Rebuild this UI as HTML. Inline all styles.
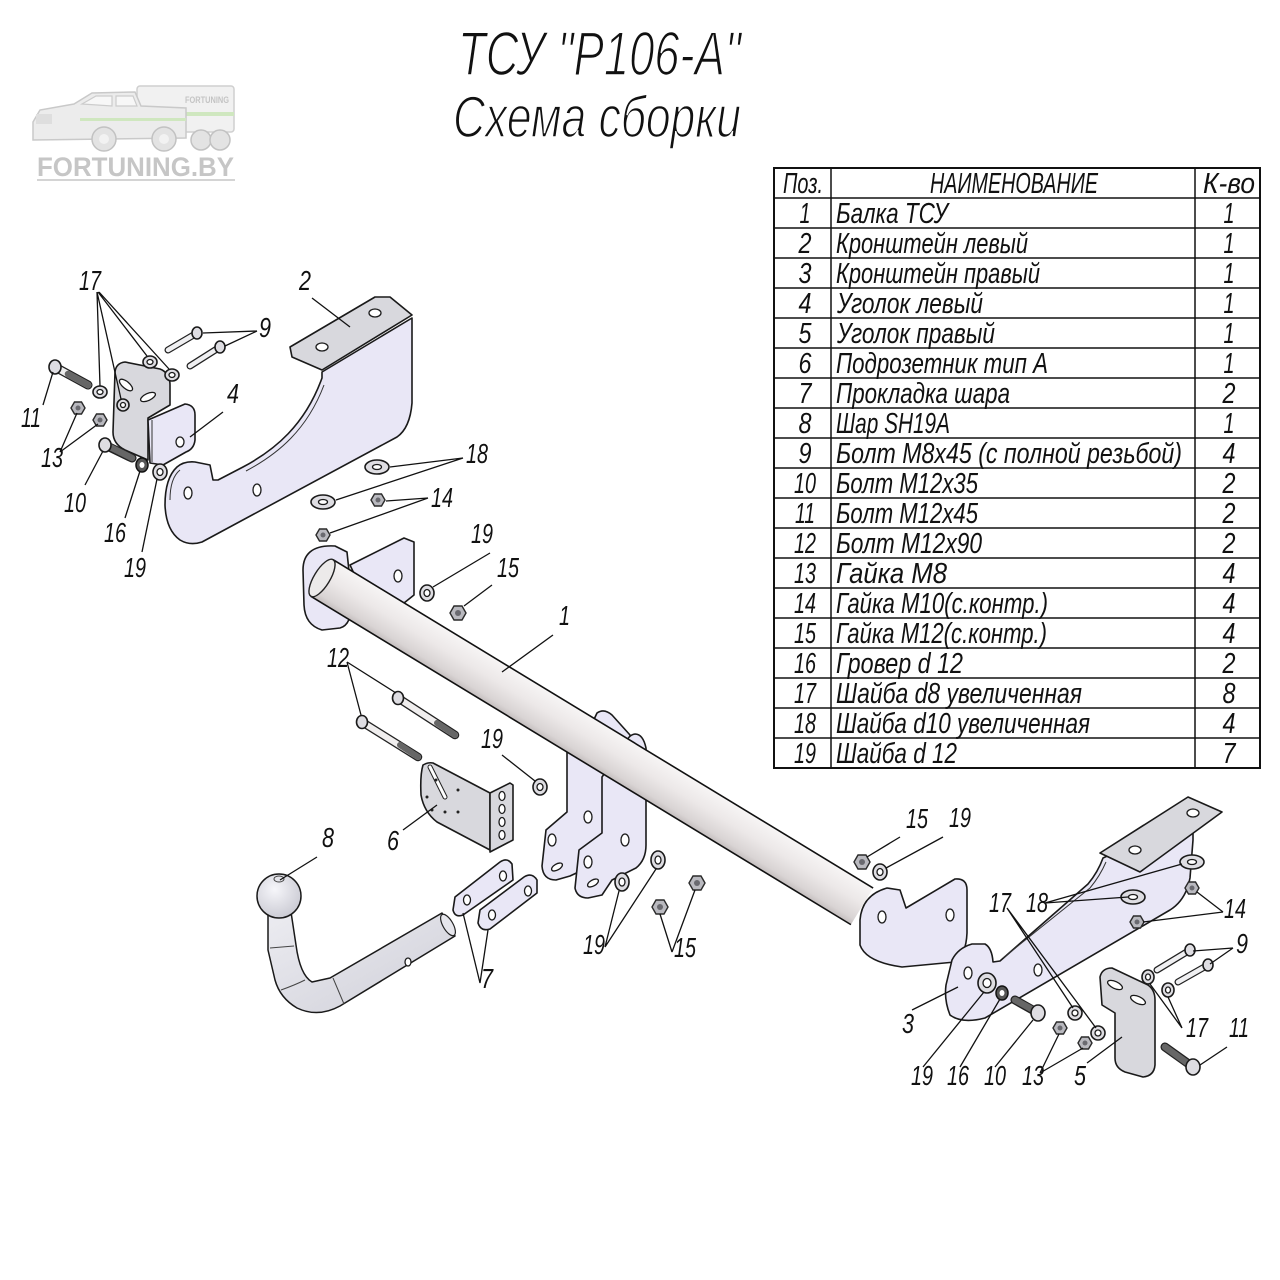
<!DOCTYPE html>
<html><head><meta charset="utf-8"><style>
html,body{margin:0;padding:0;background:#fff;}
svg{display:block;}
.l{font-family:"Liberation Sans",sans-serif;font-style:italic;font-size:28px;fill:#111;}
.t{font-family:"Liberation Sans",sans-serif;font-style:italic;font-size:29px;fill:#111;}
.ld{stroke:#111;stroke-width:1.3;fill:none;}
.pl{fill:#e9e7f6;stroke:#1a1a1a;stroke-width:1.6;stroke-linejoin:round;}
.gp{fill:#d8d8dd;stroke:#1a1a1a;stroke-width:1.6;stroke-linejoin:round;}
.h{fill:#fff;stroke:#1a1a1a;stroke-width:1.3;}
.w{fill:#dedde2;stroke:#1a1a1a;stroke-width:1.6;}
.n{fill:#b9b9bf;stroke:#2a2a2a;stroke-width:1.4;}
</style></head><body>
<svg width="1280" height="1280" viewBox="0 0 1280 1280" xmlns="http://www.w3.org/2000/svg">
<defs>
<linearGradient id="tg" x1="0" y1="0" x2="0" y2="1">
<stop offset="0" stop-color="#f7f5f5"/><stop offset="0.45" stop-color="#ece8e8"/><stop offset="0.85" stop-color="#d9d4d4"/><stop offset="1" stop-color="#c4bebe"/>
</linearGradient>
<radialGradient id="bg" cx="0.4" cy="0.35" r="0.7">
<stop offset="0" stop-color="#f6f6fa"/><stop offset="1" stop-color="#c9c9d2"/>
</radialGradient>
<linearGradient id="ag" x1="0" y1="0" x2="1" y2="1">
<stop offset="0" stop-color="#ececf1"/><stop offset="1" stop-color="#cfcfd8"/>
</linearGradient>
</defs>
<rect width="1280" height="1280" fill="#fff"/>

<!-- LOGO -->
<g>
<rect x="137" y="86" width="97" height="46" rx="3" fill="#f1f1f1" stroke="#cfcfcf" stroke-width="1.5"/>
<rect x="137" y="112" width="97" height="4" fill="#cfe7bf"/>
<text x="185" y="103" font-family="Liberation Sans,sans-serif" font-size="9" font-weight="bold" fill="#c4c4c4" textLength="44" lengthAdjust="spacingAndGlyphs">FORTUNING</text>
<path d="M33,122 L40,110 L74,104 L92,93 L135,92 L141,106 L186,108 L186,138 L33,140 Z" fill="#ececec" stroke="#c9c9c9" stroke-width="1.5"/>
<path d="M82,104 L96,96 L112,96 L112,106 Z M116,96 L133,96 L137,106 L116,106 Z" fill="#f7f7f7" stroke="#cccccc" stroke-width="1.2"/>
<rect x="80" y="118" width="106" height="3" fill="#cfe7bf"/>
<rect x="36" y="114" width="16" height="10" fill="#dedede"/>
<circle cx="104" cy="139" r="12" fill="#e3e3e3" stroke="#c2c2c2" stroke-width="1.5"/><circle cx="104" cy="139" r="5" fill="#f2f2f2"/>
<circle cx="164" cy="139" r="12" fill="#e3e3e3" stroke="#c2c2c2" stroke-width="1.5"/><circle cx="164" cy="139" r="5" fill="#f2f2f2"/>
<circle cx="201" cy="140" r="10" fill="#e3e3e3" stroke="#c2c2c2" stroke-width="1.5"/>
<circle cx="220" cy="140" r="10" fill="#e3e3e3" stroke="#c2c2c2" stroke-width="1.5"/>
<text x="37" y="176" font-family="Liberation Sans,sans-serif" font-size="27" font-weight="bold" fill="#c6c6c6" textLength="197" lengthAdjust="spacingAndGlyphs">FORTUNING.BY</text>
<rect x="37" y="179" width="198" height="2" fill="#d4d4d4"/>
</g>

<!-- TITLE -->
<text x="458" y="75" font-family="Liberation Sans,sans-serif" font-style="italic" font-size="62" fill="#111" stroke="#fff" stroke-width="1.6" textLength="283" lengthAdjust="spacingAndGlyphs">ТСУ "Р106-А"</text>
<text x="453" y="137" font-family="Liberation Sans,sans-serif" font-style="italic" font-size="58" fill="#111" stroke="#fff" stroke-width="1.6" textLength="288" lengthAdjust="spacingAndGlyphs">Схема сборки</text>

<!-- TABLE -->
<g stroke="#111" stroke-width="1.5" fill="none">
<rect x="774" y="168" width="486" height="600" stroke-width="2"/>
<line x1="831" y1="168" x2="831" y2="768"/>
<line x1="1195" y1="168" x2="1195" y2="768"/>
<line x1="774" y1="198" x2="1260" y2="198"/><line x1="774" y1="228" x2="1260" y2="228"/>
<line x1="774" y1="258" x2="1260" y2="258"/><line x1="774" y1="288" x2="1260" y2="288"/>
<line x1="774" y1="318" x2="1260" y2="318"/><line x1="774" y1="348" x2="1260" y2="348"/>
<line x1="774" y1="378" x2="1260" y2="378"/><line x1="774" y1="408" x2="1260" y2="408"/>
<line x1="774" y1="438" x2="1260" y2="438"/><line x1="774" y1="468" x2="1260" y2="468"/>
<line x1="774" y1="498" x2="1260" y2="498"/><line x1="774" y1="528" x2="1260" y2="528"/>
<line x1="774" y1="558" x2="1260" y2="558"/><line x1="774" y1="588" x2="1260" y2="588"/>
<line x1="774" y1="618" x2="1260" y2="618"/><line x1="774" y1="648" x2="1260" y2="648"/>
<line x1="774" y1="678" x2="1260" y2="678"/><line x1="774" y1="708" x2="1260" y2="708"/>
<line x1="774" y1="738" x2="1260" y2="738"/>
</g>
<g class="t">
<text x="783" y="193" textLength="40" lengthAdjust="spacingAndGlyphs">Поз.</text>
<text x="930" y="193" textLength="168" lengthAdjust="spacingAndGlyphs">НАИМЕНОВАНИЕ</text>
<text x="1203" y="193" textLength="52" lengthAdjust="spacingAndGlyphs">К-во</text>
</g>
<g class="t" text-anchor="middle">
<text x="805" y="223" textLength="11" lengthAdjust="spacingAndGlyphs">1</text><text x="805" y="253" textLength="13" lengthAdjust="spacingAndGlyphs">2</text><text x="805" y="283" textLength="13" lengthAdjust="spacingAndGlyphs">3</text>
<text x="805" y="313" textLength="13" lengthAdjust="spacingAndGlyphs">4</text><text x="805" y="343" textLength="13" lengthAdjust="spacingAndGlyphs">5</text><text x="805" y="373" textLength="13" lengthAdjust="spacingAndGlyphs">6</text>
<text x="805" y="403" textLength="13" lengthAdjust="spacingAndGlyphs">7</text><text x="805" y="433" textLength="13" lengthAdjust="spacingAndGlyphs">8</text><text x="805" y="463" textLength="13" lengthAdjust="spacingAndGlyphs">9</text>
<text x="805" y="493" textLength="22" lengthAdjust="spacingAndGlyphs">10</text>
<text x="805" y="523" textLength="20" lengthAdjust="spacingAndGlyphs">11</text>
<text x="805" y="553" textLength="22" lengthAdjust="spacingAndGlyphs">12</text>
<text x="805" y="583" textLength="22" lengthAdjust="spacingAndGlyphs">13</text>
<text x="805" y="613" textLength="22" lengthAdjust="spacingAndGlyphs">14</text>
<text x="805" y="643" textLength="22" lengthAdjust="spacingAndGlyphs">15</text>
<text x="805" y="673" textLength="22" lengthAdjust="spacingAndGlyphs">16</text>
<text x="805" y="703" textLength="22" lengthAdjust="spacingAndGlyphs">17</text>
<text x="805" y="733" textLength="22" lengthAdjust="spacingAndGlyphs">18</text>
<text x="805" y="763" textLength="22" lengthAdjust="spacingAndGlyphs">19</text>
<text x="1229" y="223" textLength="11" lengthAdjust="spacingAndGlyphs">1</text><text x="1229" y="253" textLength="11" lengthAdjust="spacingAndGlyphs">1</text><text x="1229" y="283" textLength="11" lengthAdjust="spacingAndGlyphs">1</text>
<text x="1229" y="313" textLength="11" lengthAdjust="spacingAndGlyphs">1</text><text x="1229" y="343" textLength="11" lengthAdjust="spacingAndGlyphs">1</text><text x="1229" y="373" textLength="11" lengthAdjust="spacingAndGlyphs">1</text>
<text x="1229" y="403" textLength="13" lengthAdjust="spacingAndGlyphs">2</text><text x="1229" y="433" textLength="11" lengthAdjust="spacingAndGlyphs">1</text><text x="1229" y="463" textLength="13" lengthAdjust="spacingAndGlyphs">4</text>
<text x="1229" y="493" textLength="13" lengthAdjust="spacingAndGlyphs">2</text><text x="1229" y="523" textLength="13" lengthAdjust="spacingAndGlyphs">2</text><text x="1229" y="553" textLength="13" lengthAdjust="spacingAndGlyphs">2</text>
<text x="1229" y="583" textLength="13" lengthAdjust="spacingAndGlyphs">4</text><text x="1229" y="613" textLength="13" lengthAdjust="spacingAndGlyphs">4</text><text x="1229" y="643" textLength="13" lengthAdjust="spacingAndGlyphs">4</text>
<text x="1229" y="673" textLength="13" lengthAdjust="spacingAndGlyphs">2</text><text x="1229" y="703" textLength="13" lengthAdjust="spacingAndGlyphs">8</text><text x="1229" y="733" textLength="13" lengthAdjust="spacingAndGlyphs">4</text>
<text x="1229" y="763" textLength="13" lengthAdjust="spacingAndGlyphs">7</text>
</g>
<g class="t">
<text x="836" y="223" textLength="112" lengthAdjust="spacingAndGlyphs">Балка ТСУ</text>
<text x="836" y="253" textLength="192" lengthAdjust="spacingAndGlyphs">Кронштейн левый</text>
<text x="836" y="283" textLength="204" lengthAdjust="spacingAndGlyphs">Кронштейн правый</text>
<text x="837" y="313" textLength="146" lengthAdjust="spacingAndGlyphs">Уголок левый</text>
<text x="837" y="343" textLength="158" lengthAdjust="spacingAndGlyphs">Уголок правый</text>
<text x="836" y="373" textLength="212" lengthAdjust="spacingAndGlyphs">Подрозетник тип А</text>
<text x="836" y="403" textLength="174" lengthAdjust="spacingAndGlyphs">Прокладка шара</text>
<text x="836" y="433" textLength="114" lengthAdjust="spacingAndGlyphs">Шар SH19A</text>
<text x="836" y="463" textLength="346" lengthAdjust="spacingAndGlyphs">Болт М8х45 (с полной резьбой)</text>
<text x="836" y="493" textLength="142" lengthAdjust="spacingAndGlyphs">Болт М12х35</text>
<text x="836" y="523" textLength="142" lengthAdjust="spacingAndGlyphs">Болт М12х45</text>
<text x="836" y="553" textLength="146" lengthAdjust="spacingAndGlyphs">Болт М12х90</text>
<text x="836" y="583" textLength="111" lengthAdjust="spacingAndGlyphs">Гайка  М8</text>
<text x="836" y="613" textLength="212" lengthAdjust="spacingAndGlyphs">Гайка М10(с.контр.)</text>
<text x="836" y="643" textLength="211" lengthAdjust="spacingAndGlyphs">Гайка М12(с.контр.)</text>
<text x="836" y="673" textLength="127" lengthAdjust="spacingAndGlyphs">Гровер d 12</text>
<text x="836" y="703" textLength="246" lengthAdjust="spacingAndGlyphs">Шайба d8 увеличенная</text>
<text x="836" y="733" textLength="254" lengthAdjust="spacingAndGlyphs">Шайба d10 увеличенная</text>
<text x="836" y="763" textLength="121" lengthAdjust="spacingAndGlyphs">Шайба d 12</text>
</g>

<!-- LEFT BRACKET 2 -->
<path class="pl" d="M322,372 L412,318 L412,403 Q410,428 397,437 L202,542 Q190,546 180,540 Q166,530 165,505 Q165,478 177,467 Q184,461 195,462 L210,465 L213,480 L218,480 L243,467 C275,450 305,425 322,378 Z"/>
<path d="M170,500 Q170,478 180,470 M246,471 C278,454 307,430 324,385" fill="none" stroke="#333" stroke-width="1"/>
<polygon class="gp" points="290,347 375,297 390,297 412,315 322,370 292,357" fill="#dddce2"/>
<ellipse class="h" cx="322" cy="347" rx="6" ry="4"/>
<ellipse class="h" cx="375" cy="313" rx="6" ry="4"/>
<ellipse class="h" cx="188" cy="493" rx="4" ry="6"/>
<ellipse class="h" cx="257" cy="490" rx="4" ry="6"/>

<!-- LEFT ANGLE 4 -->
<path class="gp" d="M115,372 Q116,363 125,362 L160,369 Q170,373 170,385 L170,405 L148,418 L148,460 L125,450 Q113,444 113,432 Z"/>
<path class="pl" d="M148,420 L185,404 Q195,405 195,415 L195,440 Q194,449 186,452 L163,465 L150,463 Z"/>
<line x1="152" y1="420" x2="152" y2="462" stroke="#333" stroke-width="1"/>
<ellipse class="h" cx="126" cy="385" rx="8" ry="3.5" transform="rotate(40 126 385)"/>
<ellipse class="h" cx="148" cy="397" rx="8" ry="3.5" transform="rotate(-25 148 397)"/>
<ellipse class="h" cx="180" cy="442" rx="4" ry="5"/>

<!-- LEFT END OF TUBE: flange + bracket -->
<polygon class="pl" points="350,565 404,538 414,542 414,595 404,603 372,612"/>
<ellipse class="h" cx="398" cy="576" rx="4" ry="6"/>
<path class="pl" d="M310,552 Q318,545 335,546 L347,552 L352,600 Q352,625 340,628 L322,630 Q305,625 304,605 L303,570 Q303,558 310,552 Z"/>

<!-- MIDDLE BRACKETS -->
<path class="pl" d="M567,752 L567,812 L546,830 L542,866 Q543,880 556,880 L570,876 L600,862 L630,820 L630,735 L612,715 Q604,708 597,713 L590,728 Z"/>
<ellipse class="h" cx="588" cy="817" rx="4" ry="6"/>
<ellipse class="h" cx="552" cy="840" rx="4" ry="6"/>
<ellipse class="h" cx="557" cy="867" rx="6" ry="3" transform="rotate(-30 557 867)"/>
<path class="pl" d="M602,777 L602,833 L579,850 L575,888 Q577,898 588,898 L602,895 L612,880 L636,868 Q646,860 646,845 L646,748 Q643,734 635,734 Q628,735 625,745 Z"/>
<ellipse class="h" cx="625" cy="840" rx="4" ry="6"/>
<ellipse class="h" cx="588" cy="862" rx="4" ry="6"/>
<ellipse class="h" cx="593" cy="883" rx="6" ry="3" transform="rotate(-30 593 883)"/>

<!-- TUBE -->
<g transform="translate(322,578) rotate(31.3)">
<rect x="0" y="-21.4" width="632" height="42.8" fill="url(#tg)"/>
<line x1="0" y1="-21.4" x2="632" y2="-21.4" stroke="#111" stroke-width="1.6"/>
<line x1="0" y1="21.4" x2="632" y2="21.4" stroke="#111" stroke-width="1.6"/>
<ellipse cx="0" cy="0" rx="8" ry="21.4" fill="#eceaea" stroke="#222" stroke-width="1.4"/>
</g>

<!-- RIGHT END PLATE -->
<path class="pl" d="M860,920 Q862,895 887,888 L900,890 L906,908 L955,879 Q967,878 967,890 L967,933 Q966,955 955,962 L902,967 Q866,962 860,945 Z"/>
<ellipse class="h" cx="882" cy="917" rx="4" ry="6"/>
<ellipse class="h" cx="950" cy="915" rx="4" ry="6"/>

<!-- RIGHT BRACKET 3 -->
<path class="pl" d="M950,1015 Q944,1000 946,985 L952,960 Q958,948 972,944 L985,944 Q992,948 993,962 L1000,961 L1088,884 Q1098,872 1103,858 L1193,816 L1193,840 L1190,878 Q1186,900 1170,910 L985,1018 Q962,1024 950,1015 Z"/>
<path d="M1003,958 L1090,888 Q1100,876 1106,862" fill="none" stroke="#333" stroke-width="1"/>
<polygon class="gp" points="1100,853 1188,797 1222,812 1140,872" fill="#dcdbe0"/>
<ellipse class="h" cx="1135" cy="850" rx="6" ry="4"/>
<ellipse class="h" cx="1193" cy="813" rx="6" ry="4"/>
<ellipse class="h" cx="968" cy="973" rx="4" ry="6"/>
<ellipse class="h" cx="1038" cy="970" rx="4" ry="6"/>

<!-- RIGHT ANGLE 5 -->
<path class="gp" d="M1100,977 Q1102,968 1112,968 L1148,985 Q1155,990 1155,1000 L1155,1065 Q1154,1076 1143,1077 L1125,1072 Q1115,1068 1115,1058 L1115,1013 L1102,1005 Z"/>
<ellipse class="h" cx="1115" cy="985" rx="8" ry="3.5" transform="rotate(25 1115 985)"/>
<ellipse class="h" cx="1138" cy="1000" rx="8" ry="3.5" transform="rotate(25 1138 1000)"/>

<!-- PLATE 6 -->
<path class="gp" d="M423,765 Q428,762 433,763 L490,793 L490,850 L437,822 Q424,812 421,795 Q420,775 423,765 Z" fill="#dcdce0"/>
<path class="gp" d="M490,793 L510,783 L513,785 L513,840 L490,852 Z" fill="#cfcfd4"/>
<path d="M430,767 L445,797" stroke="#222" stroke-width="5" stroke-linecap="round"/>
<path d="M430,767 L445,797" stroke="#fff" stroke-width="3" stroke-linecap="round"/>
<g fill="#222"><circle cx="436" cy="780" r="1.5"/><circle cx="458" cy="790" r="1.5"/><circle cx="427" cy="797" r="1.5"/><circle cx="445" cy="812" r="1.5"/><circle cx="458" cy="812" r="1.5"/><circle cx="432" cy="810" r="1.5"/></g>
<ellipse class="h" cx="502" cy="796" rx="3" ry="4.5"/><ellipse class="h" cx="502" cy="809" rx="3" ry="4.5"/>
<ellipse class="h" cx="502" cy="822" rx="3" ry="4.5"/><ellipse class="h" cx="502" cy="835" rx="3" ry="4.5"/>

<!-- PADS 7 -->
<path class="pl" d="M455,897 L500,862 Q507,857 512,864 L513,880 L463,915 Q455,918 453,910 Z" fill="#eceaf4"/>
<ellipse class="h" cx="467" cy="900" rx="3.5" ry="5"/><ellipse class="h" cx="503" cy="876" rx="3.5" ry="5"/>
<path class="pl" d="M480,910 L524,877 Q532,872 537,880 L537,893 L490,929 Q481,932 478,923 Z" fill="#eceaf4"/>
<ellipse class="h" cx="492" cy="915" rx="3.5" ry="5"/><ellipse class="h" cx="528" cy="891" rx="3.5" ry="5"/>

<!-- BALL 8 -->
<path d="M268,912 L291,912 L296,945 Q300,975 312,982 L330,978 L442,913 L455,936 L340,1006 Q318,1018 297,1008 Q280,998 275,980 L268,950 Z" fill="url(#ag)" stroke="#1a1a1a" stroke-width="1.5" stroke-linejoin="round"/>
<path d="M270,948 L294,946 M281,990 Q295,985 305,980 M333,978 L344,1004" stroke="#444" stroke-width="1" fill="none"/>
<ellipse cx="448" cy="925" rx="5" ry="12" transform="rotate(-30 448 925)" fill="#e6e6ec" stroke="#222" stroke-width="1.2"/>
<ellipse class="h" cx="408" cy="962" rx="3" ry="4"/>
<circle cx="279" cy="896" r="22" fill="url(#bg)" stroke="#1a1a1a" stroke-width="1.5"/>
<ellipse cx="279" cy="879" rx="5" ry="3" fill="#e4e4ea" stroke="#444" stroke-width="1"/>

<!-- BOLTS -->
<g stroke-linecap="round">
<line x1="168" y1="350" x2="197" y2="333" stroke="#222" stroke-width="7"/><line x1="168" y1="350" x2="197" y2="333" stroke="#f0f0f2" stroke-width="4.5"/>
<line x1="190" y1="366" x2="220" y2="347" stroke="#222" stroke-width="7"/><line x1="190" y1="366" x2="220" y2="347" stroke="#f0f0f2" stroke-width="4.5"/>
<line x1="55" y1="367" x2="88" y2="385" stroke="#222" stroke-width="9"/><line x1="55" y1="367" x2="88" y2="385" stroke="#eee" stroke-width="6.5"/><line x1="68" y1="374" x2="88" y2="385" stroke="#666" stroke-width="6.5"/>
<line x1="105" y1="445" x2="132" y2="458" stroke="#222" stroke-width="9"/><line x1="108" y1="446" x2="132" y2="458" stroke="#666" stroke-width="6.5"/>
<line x1="398" y1="698" x2="455" y2="735" stroke="#222" stroke-width="8.5"/><line x1="398" y1="698" x2="455" y2="735" stroke="#f0eeee" stroke-width="6"/><line x1="437" y1="723" x2="455" y2="735" stroke="#666" stroke-width="6"/>
<line x1="362" y1="722" x2="418" y2="757" stroke="#222" stroke-width="8.5"/><line x1="362" y1="722" x2="418" y2="757" stroke="#f0eeee" stroke-width="6"/><line x1="400" y1="745" x2="418" y2="757" stroke="#666" stroke-width="6"/>
<line x1="1157" y1="970" x2="1190" y2="950" stroke="#222" stroke-width="7"/><line x1="1157" y1="970" x2="1190" y2="950" stroke="#f0f0f2" stroke-width="4.5"/>
<line x1="1178" y1="982" x2="1208" y2="965" stroke="#222" stroke-width="7"/><line x1="1178" y1="982" x2="1208" y2="965" stroke="#f0f0f2" stroke-width="4.5"/>
<line x1="1015" y1="1000" x2="1038" y2="1013" stroke="#222" stroke-width="9"/><line x1="1015" y1="1000" x2="1035" y2="1011" stroke="#666" stroke-width="6.5"/>
<line x1="1165" y1="1047" x2="1193" y2="1067" stroke="#222" stroke-width="9"/><line x1="1165" y1="1047" x2="1190" y2="1065" stroke="#666" stroke-width="6.5"/>
</g>
<g class="w">
<ellipse cx="197" cy="333" rx="5" ry="6"/><ellipse cx="220" cy="347" rx="5" ry="6"/>
<ellipse cx="55" cy="367" rx="6" ry="7"/><ellipse cx="105" cy="445" rx="6" ry="7"/>
<ellipse cx="398" cy="698" rx="5.5" ry="6.5"/><ellipse cx="362" cy="722" rx="5.5" ry="6.5"/>
<ellipse cx="1190" cy="950" rx="5" ry="6"/><ellipse cx="1208" cy="965" rx="5" ry="6"/>
<ellipse cx="1038" cy="1013" rx="7" ry="8"/><ellipse cx="1193" cy="1067" rx="7" ry="8"/>
</g>

<!-- WASHERS -->
<g class="w">
<ellipse cx="150" cy="362" rx="7" ry="6"/><ellipse cx="172" cy="375" rx="7" ry="6"/>
<ellipse cx="100" cy="392" rx="7" ry="6"/><ellipse cx="123" cy="405" rx="6" ry="6"/>
<ellipse cx="160" cy="472" rx="7" ry="8"/>
<ellipse cx="377" cy="467" rx="12" ry="7"/><ellipse cx="323" cy="502" rx="12" ry="7"/>
<ellipse cx="427" cy="593" rx="7" ry="8"/><ellipse cx="540" cy="787" rx="7" ry="8"/>
<ellipse cx="622" cy="882" rx="7" ry="9"/><ellipse cx="658" cy="860" rx="7" ry="9"/>
<ellipse cx="880" cy="872" rx="7" ry="8"/>
<ellipse cx="1192" cy="862" rx="12" ry="7"/><ellipse cx="1133" cy="897" rx="12" ry="7"/>
<ellipse cx="1148" cy="977" rx="6" ry="7"/><ellipse cx="1168" cy="990" rx="6" ry="7"/>
<ellipse cx="1075" cy="1013" rx="7" ry="7"/><ellipse cx="1098" cy="1033" rx="7" ry="7"/>
<ellipse cx="987" cy="983" rx="9" ry="10"/>
</g>
<g class="h">
<ellipse cx="150" cy="362" rx="3" ry="2.5"/><ellipse cx="172" cy="375" rx="3" ry="2.5"/>
<ellipse cx="100" cy="392" rx="3" ry="2.5"/><ellipse cx="123" cy="405" rx="2.5" ry="2.5"/>
<ellipse cx="160" cy="472" rx="3" ry="3.5"/>
<ellipse cx="377" cy="467" rx="4.5" ry="2.5"/><ellipse cx="323" cy="502" rx="4.5" ry="2.5"/>
<ellipse cx="427" cy="593" rx="3" ry="3.5"/><ellipse cx="540" cy="787" rx="3" ry="3.5"/>
<ellipse cx="622" cy="882" rx="3" ry="4"/><ellipse cx="658" cy="860" rx="3" ry="4"/>
<ellipse cx="880" cy="872" rx="3" ry="3.5"/>
<ellipse cx="1192" cy="862" rx="4.5" ry="2.5"/><ellipse cx="1133" cy="897" rx="4.5" ry="2.5"/>
<ellipse cx="1148" cy="977" rx="2.5" ry="3"/><ellipse cx="1168" cy="990" rx="2.5" ry="3"/>
<ellipse cx="1075" cy="1013" rx="3" ry="3"/><ellipse cx="1098" cy="1033" rx="3" ry="3"/>
<ellipse cx="987" cy="983" rx="4" ry="4.5"/>
</g>
<ellipse cx="142" cy="465" rx="6" ry="7" fill="#555" stroke="#111" stroke-width="1.5"/><ellipse cx="142" cy="465" rx="2.5" ry="3" fill="#fff"/>
<ellipse cx="1002" cy="993" rx="6" ry="7" fill="#555" stroke="#111" stroke-width="1.5"/><ellipse cx="1002" cy="993" rx="2.5" ry="3" fill="#fff"/>

<!-- NUTS -->
<g class="n">
<polygon points="71,408 74.5,402 81.5,402 85,408 81.5,414 74.5,414"/>
<polygon points="93,420 96.5,414 103.5,414 107,420 103.5,426 96.5,426"/>
<polygon points="371,500 374.5,494 381.5,494 385,500 381.5,506 374.5,506"/>
<polygon points="316,535 319.5,529 326.5,529 330,535 326.5,541 319.5,541"/>
<polygon points="450,613 454,606 462,606 466,613 462,620 454,620"/>
<polygon points="652,907 656,900 664,900 668,907 664,914 656,914"/>
<polygon points="689,883 693,876 701,876 705,883 701,890 693,890"/>
<polygon points="854,862 858,855 866,855 870,862 866,869 858,869"/>
<polygon points="1185,888 1188.5,882 1195.5,882 1199,888 1195.5,894 1188.5,894"/>
<polygon points="1130,922 1133.5,916 1140.5,916 1144,922 1140.5,928 1133.5,928"/>
<polygon points="1053,1028 1056.5,1022 1063.5,1022 1067,1028 1063.5,1034 1056.5,1034"/>
<polygon points="1078,1043 1081.5,1037 1088.5,1037 1092,1043 1088.5,1049 1081.5,1049"/>
</g>
<g fill="#6a6a70">
<circle cx="78" cy="408" r="2.5"/><circle cx="100" cy="420" r="2.5"/><circle cx="378" cy="500" r="2.5"/><circle cx="323" cy="535" r="2.5"/>
<circle cx="458" cy="613" r="3"/><circle cx="660" cy="907" r="3"/><circle cx="697" cy="883" r="3"/><circle cx="862" cy="862" r="3"/>
<circle cx="1192" cy="888" r="2.5"/><circle cx="1137" cy="922" r="2.5"/><circle cx="1060" cy="1028" r="2.5"/><circle cx="1085" cy="1043" r="2.5"/>
</g>

<!-- LEADERS -->
<g class="ld">
<path d="M97,292 L100,386 M97,292 L121,399 M98,292 L147,356 M99,292 L169,369"/>
<path d="M257,331 L203,333 M257,331 L225,346"/>
<path d="M312,298 L350,327"/>
<path d="M223,412 L190,437"/>
<path d="M43,405 L53,372"/>
<path d="M60,452 L77,413 M60,452 L98,424"/>
<path d="M85,485 L103,451"/>
<path d="M125,518 L140,471"/>
<path d="M142,552 L157,479"/>
<path d="M463,458 L390,467 M463,458 L336,500"/>
<path d="M428,498 L386,501 M428,498 L330,533"/>
<path d="M490,553 L433,587"/>
<path d="M492,585 L464,606"/>
<path d="M553,635 L502,672"/>
<path d="M347,662 L396,693 M347,662 L361,715"/>
<path d="M502,755 L535,781"/>
<path d="M403,830 L437,805"/>
<path d="M317,857 L280,880"/>
<path d="M480,983 L463,913 M480,983 L488,930"/>
<path d="M605,947 L619,891 M605,947 L656,869"/>
<path d="M672,952 L660,914 M672,952 L695,890"/>
<path d="M900,837 L867,857"/>
<path d="M943,837 L886,868"/>
<path d="M1007,908 L1073,1008 M1007,908 L1096,1028"/>
<path d="M1045,903 L1182,864 M1045,903 L1128,897"/>
<path d="M1223,912 L1197,892 M1223,912 L1143,922"/>
<path d="M1233,948 L1193,951 M1233,948 L1210,964"/>
<path d="M912,1010 L958,987"/>
<path d="M923,1067 L984,992"/>
<path d="M960,1067 L1000,999"/>
<path d="M995,1067 L1033,1020"/>
<path d="M1040,1073 L1059,1034 M1040,1073 L1083,1048"/>
<path d="M1087,1063 L1122,1037"/>
<path d="M1182,1028 L1150,984 M1182,1028 L1168,997"/>
<path d="M1227,1047 L1200,1065"/>
</g>

<!-- LABELS -->
<g class="l">
<text x="79" y="290" textLength="22" lengthAdjust="spacingAndGlyphs">17</text>
<text x="259" y="337" textLength="12" lengthAdjust="spacingAndGlyphs">9</text>
<text x="299" y="290" textLength="12" lengthAdjust="spacingAndGlyphs">2</text>
<text x="227" y="403" textLength="12" lengthAdjust="spacingAndGlyphs">4</text>
<text x="21" y="427" textLength="20" lengthAdjust="spacingAndGlyphs">11</text>
<text x="41" y="467" textLength="22" lengthAdjust="spacingAndGlyphs">13</text>
<text x="64" y="512" textLength="22" lengthAdjust="spacingAndGlyphs">10</text>
<text x="104" y="542" textLength="22" lengthAdjust="spacingAndGlyphs">16</text>
<text x="124" y="577" textLength="22" lengthAdjust="spacingAndGlyphs">19</text>
<text x="466" y="463" textLength="22" lengthAdjust="spacingAndGlyphs">18</text>
<text x="431" y="507" textLength="22" lengthAdjust="spacingAndGlyphs">14</text>
<text x="471" y="543" textLength="22" lengthAdjust="spacingAndGlyphs">19</text>
<text x="497" y="577" textLength="22" lengthAdjust="spacingAndGlyphs">15</text>
<text x="559" y="625" textLength="11" lengthAdjust="spacingAndGlyphs">1</text>
<text x="327" y="667" textLength="22" lengthAdjust="spacingAndGlyphs">12</text>
<text x="481" y="748" textLength="22" lengthAdjust="spacingAndGlyphs">19</text>
<text x="387" y="850" textLength="12" lengthAdjust="spacingAndGlyphs">6</text>
<text x="322" y="847" textLength="12" lengthAdjust="spacingAndGlyphs">8</text>
<text x="481" y="988" textLength="12" lengthAdjust="spacingAndGlyphs">7</text>
<text x="583" y="954" textLength="22" lengthAdjust="spacingAndGlyphs">19</text>
<text x="674" y="957" textLength="22" lengthAdjust="spacingAndGlyphs">15</text>
<text x="906" y="828" textLength="22" lengthAdjust="spacingAndGlyphs">15</text>
<text x="949" y="827" textLength="22" lengthAdjust="spacingAndGlyphs">19</text>
<text x="989" y="912" textLength="22" lengthAdjust="spacingAndGlyphs">17</text>
<text x="1026" y="912" textLength="22" lengthAdjust="spacingAndGlyphs">18</text>
<text x="1224" y="918" textLength="22" lengthAdjust="spacingAndGlyphs">14</text>
<text x="1236" y="953" textLength="12" lengthAdjust="spacingAndGlyphs">9</text>
<text x="902" y="1033" textLength="12" lengthAdjust="spacingAndGlyphs">3</text>
<text x="911" y="1085" textLength="22" lengthAdjust="spacingAndGlyphs">19</text>
<text x="947" y="1085" textLength="22" lengthAdjust="spacingAndGlyphs">16</text>
<text x="984" y="1085" textLength="22" lengthAdjust="spacingAndGlyphs">10</text>
<text x="1022" y="1085" textLength="22" lengthAdjust="spacingAndGlyphs">13</text>
<text x="1074" y="1085" textLength="12" lengthAdjust="spacingAndGlyphs">5</text>
<text x="1186" y="1037" textLength="22" lengthAdjust="spacingAndGlyphs">17</text>
<text x="1229" y="1037" textLength="20" lengthAdjust="spacingAndGlyphs">11</text>
</g>
</svg>
</body></html>
